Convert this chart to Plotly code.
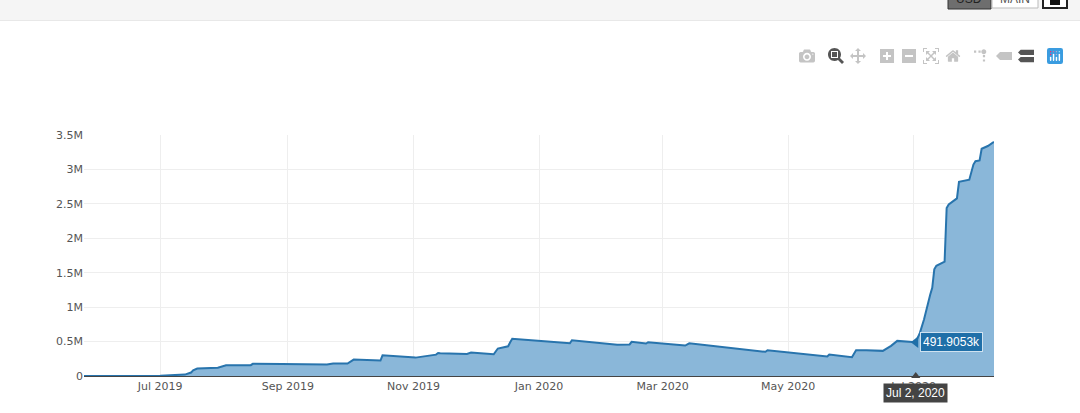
import plotly.graph_objects as go

dates = ["2019-05-25","2019-07-01","2019-07-13","2019-07-16","2019-07-17","2019-07-19","2019-07-29","2019-07-31",
"2019-08-02","2019-08-14","2019-08-15","2019-08-29","2019-09-20","2019-09-23","2019-09-30","2019-10-03","2019-10-16",
"2019-10-17","2019-11-02","2019-11-12","2019-11-13","2019-11-14","2019-11-27","2019-11-29","2019-12-10","2019-12-12",
"2019-12-14","2019-12-17","2019-12-18","2019-12-19","2020-01-02","2020-01-16","2020-01-17","2020-02-08","2020-02-14",
"2020-02-15","2020-02-22","2020-02-23","2020-03-12","2020-03-14","2020-04-20","2020-04-21","2020-05-20","2020-05-21",
"2020-06-01","2020-06-03","2020-06-08","2020-06-16","2020-06-20","2020-06-23","2020-07-02","2020-07-04","2020-07-06",
"2020-07-08","2020-07-09","2020-07-10","2020-07-11","2020-07-12","2020-07-16","2020-07-17","2020-07-18","2020-07-22",
"2020-07-23","2020-07-28","2020-07-30","2020-07-31","2020-08-02","2020-08-03","2020-08-06","2020-08-09"]
values = [0,5000,20000,50000,84000,109000,119000,138000,157000,157000,177000,174000,167000,181000,181000,239000,225000,
300000,267000,310000,334000,330000,320000,340000,316000,399000,413000,432000,490000,540000,510000,475000,520000,454000,
458000,497000,472000,490000,442000,475000,351000,374000,283000,312000,273000,375000,375000,365000,438000,510000,491905,
626000,820000,1090000,1180000,1280000,1550000,1600000,1660000,2440000,2490000,2580000,2820000,2850000,3070000,3120000,
3130000,3300000,3340000,3400000]

hover_date = "2020-07-02"
hover_value = 491905.3
hover_value_text = "491.9053k"
hover_date_text = "Jul 2, 2020"
y_ticks = [0, 500000, 1000000, 1500000, 2000000, 2500000, 3000000, 3500000]
y_tick_text = ["0", "0.5M", "1M", "1.5M", "2M", "2.5M", "3M", "3.5M"]
header_buttons = ["USD", "MAIN"]

LINE = "#2874ad"
FILL = "rgb(138,183,217)"
TICK_FONT = dict(family="DejaVu Sans, Verdana, sans-serif", size=11, color="#555555")
W, H, L, R, T, B = 1080, 413, 84, 86, 135, 37
PW, PH = W - L - R, H - T - B


def px(x):
    return (x - L) / PW


def py(y):
    return (H - B - y) / PH


fig = go.Figure()
fig.add_trace(go.Scatter(x=dates, y=values, mode="lines", fill="tozeroy", fillcolor=FILL,
                         line=dict(color=LINE, width=2), showlegend=False, hoverinfo="x+y"))
fig.add_trace(go.Scatter(x=[hover_date], y=[hover_value], mode="markers", cliponaxis=False, showlegend=False,
                         marker=dict(symbol="triangle-left", size=10, color="#1f6fa8"), hoverinfo="skip"))
fig.add_trace(go.Scatter(x=[hover_date], y=[0], mode="markers", cliponaxis=False, showlegend=False,
                         marker=dict(symbol="triangle-up", size=8, color="#444444"), hoverinfo="skip"))

shapes = [
    dict(type="rect", xref="paper", yref="paper", x0=px(0), x1=px(W), y0=py(20), y1=py(0),
         fillcolor="#f5f5f5", line=dict(width=0), layer="below"),
    dict(type="line", xref="paper", yref="paper", x0=px(0), x1=px(W), y0=py(20.5), y1=py(20.5),
         line=dict(color="#e8e8e8", width=1), layer="below"),
    dict(type="rect", xref="paper", yref="paper", x0=px(948), x1=px(991), y0=py(9), y1=py(-5),
         fillcolor="#6e6e6e", line=dict(color="#333333", width=1)),
    dict(type="rect", xref="paper", yref="paper", x0=px(992), x1=px(1038), y0=py(8), y1=py(-5),
         fillcolor="#ffffff", line=dict(color="#bbbbbb", width=1)),
    dict(type="rect", xref="paper", yref="paper", x0=px(1043), x1=px(1067), y0=py(8), y1=py(-5),
         fillcolor="#ffffff", line=dict(color="#222222", width=2)),
    dict(type="rect", xref="paper", yref="paper", x0=px(1050), x1=px(1060), y0=py(5), y1=py(-5),
         fillcolor="#111111", line=dict(width=0)),
]

annotations = [
    dict(x=hover_date, y=hover_value, xref="x", yref="y", text=hover_value_text, showarrow=False,
         xanchor="left", yanchor="middle", xshift=4, font=dict(family="Liberation Sans, Arial", size=12, color="#ffffff"),
         bgcolor="#1f6fa8", bordercolor="#cfe2f0", borderwidth=1, borderpad=2),
    dict(x=hover_date, y=0, xref="x", yref="y", text=hover_date_text, showarrow=False,
         xanchor="center", yanchor="top", yshift=-7, font=dict(family="Liberation Sans, Arial", size=12, color="#ffffff"),
         bgcolor="#444444", borderpad=2),
    dict(x=px(969), y=py(-1), xref="paper", yref="paper", text=header_buttons[0], showarrow=False,
         xanchor="center", yanchor="middle",
         font=dict(family="Liberation Sans, Arial", size=12, color="#222222")),
    dict(x=px(1015), y=py(-1), xref="paper", yref="paper", text=header_buttons[1], showarrow=False,
         xanchor="center", yanchor="middle",
         font=dict(family="Liberation Sans, Arial", size=12, color="#555555")),
]

fig.update_layout(
    width=W, height=H,
    margin=dict(l=L, r=R, t=T, b=B, pad=0),
    paper_bgcolor="#ffffff", plot_bgcolor="#ffffff",
    hovermode="x",
    shapes=shapes, annotations=annotations,
    modebar=dict(bgcolor="rgba(0,0,0,0)", color="#c4c4c4", activecolor="#555555"),
    xaxis=dict(type="date", range=["2019-05-25", "2020-08-09"], dtick="M2", tick0="2019-07-01", tickformat="%b %Y",
               tickfont=TICK_FONT, showgrid=True, gridcolor="#eeeeee", gridwidth=1, zeroline=False,
               showline=True, linecolor="#444444", linewidth=1, ticks=""),
    yaxis=dict(range=[0, 3500000], tickvals=y_ticks, ticktext=y_tick_text, tickfont=TICK_FONT, showgrid=True,
               gridcolor="#eeeeee", gridwidth=1, zeroline=False, ticks=""),
)

post = """
document.body.style.margin='0';
var s=document.createElement('style');
s.textContent='.modebar-container{top:43px !important} .modebar{right:14px !important}'
 + ' .modebar-btn{padding:3px 3px !important} .modebar-group{padding-left:7px !important}'
 + ' .modebar-btn--logo svg rect, .modebar-btn--logo svg path:first-child{fill:#3a9ce0 !important}'
 + ' html,body{overflow:hidden}';
document.head.appendChild(s);
"""
fig.write_html("out.html", post_script=post,
               config=dict(displayModeBar=True, displaylogo=True,
                           modeBarButtons=[["toImage"], ["zoom2d", "pan2d"],
                                           ["zoomIn2d", "zoomOut2d", "autoScale2d", "resetScale2d"],
                                           ["toggleSpikelines", "hoverClosestCartesian", "hoverCompareCartesian"]]))
